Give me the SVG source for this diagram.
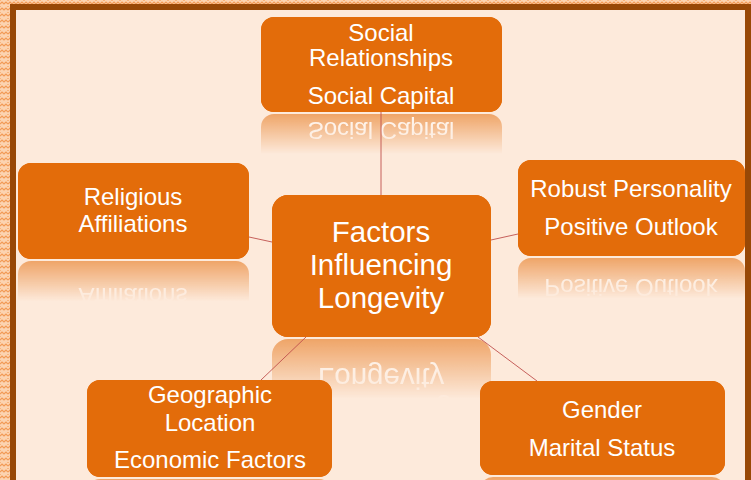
<svg xmlns="http://www.w3.org/2000/svg" xmlns:xlink="http://www.w3.org/1999/xlink" width="751" height="480" viewBox="0 0 751 480">
  <style>
    .box { fill: #e36c0a; }
    .lbl { font-family: "Liberation Sans", Arial, sans-serif; font-size: 24px; fill: #ffffff; text-anchor: middle; }
    .hub { font-size: 29.5px; }
    .link { stroke: #c0504d; stroke-width: 0.9; fill: none; }
  </style>
  <defs>
    <!-- woven zigzag used for the outer frame -->
    <pattern id="weave" width="8" height="6" patternUnits="userSpaceOnUse">
      <rect width="8" height="6" fill="#fcd3b0"/>
      <path d="M0 4 L2 2 L4 4 L6 2 L8 4" stroke="#f29a55" stroke-width="1.2" fill="none"/>
      <path d="M0 1 L1 0 M7 0 L8 1" stroke="#f8b47c" stroke-width="1" fill="none"/>
    </pattern>
    <!-- fading mask for the mirrored copies under each box -->
    <linearGradient id="fadeGrad" x1="0" y1="0" x2="0" y2="1">
      <stop offset="0" stop-color="#fff" stop-opacity="0"/>
      <stop offset="0.58" stop-color="#fff" stop-opacity="0"/>
      <stop offset="1" stop-color="#fff" stop-opacity="0.55"/>
    </linearGradient>
    <mask id="fade" maskContentUnits="objectBoundingBox">
      <rect x="0" y="0" width="1" height="1" fill="url(#fadeGrad)"/>
    </mask>
  </defs>

  <!-- page and frame -->
  <rect x="0" y="0" width="751" height="480" fill="#fdeadb"/>
  <rect x="0" y="0" width="751" height="5" fill="url(#weave)"/>
  <rect x="0" y="0" width="10" height="480" fill="url(#weave)"/>

  <!-- nodes (definitions reused for reflections) -->
  <g id="node-social">
    <rect class="box" x="261" y="17" width="241" height="95" rx="13"/>
    <text class="lbl" x="381" y="41">Social</text>
    <text class="lbl" x="381" y="66">Relationships</text>
    <text class="lbl" x="381" y="104">Social Capital</text>
  </g>
  <g id="node-religious">
    <rect class="box" x="18" y="163" width="231" height="96" rx="13"/>
    <text class="lbl" x="133" y="205">Religious</text>
    <text class="lbl" x="133" y="232">Affiliations</text>
  </g>
  <g id="node-personality">
    <rect class="box" x="518" y="160" width="227" height="96" rx="13"/>
    <text class="lbl" x="631" y="197">Robust Personality</text>
    <text class="lbl" x="631" y="235">Positive Outlook</text>
  </g>
  <g id="node-geo">
    <rect class="box" x="87" y="380" width="245" height="97" rx="13"/>
    <text class="lbl" x="210" y="403">Geographic</text>
    <text class="lbl" x="210" y="431">Location</text>
    <text class="lbl" x="210" y="468">Economic Factors</text>
  </g>
  <g id="node-gender">
    <rect class="box" x="480" y="381" width="245" height="94" rx="13"/>
    <text class="lbl" x="602" y="418">Gender</text>
    <text class="lbl" x="602" y="456">Marital Status</text>
  </g>
  <g id="node-center">
    <rect class="box" x="272" y="195" width="219" height="142" rx="16"/>
    <text class="lbl hub" x="381" y="242">Factors</text>
    <text class="lbl hub" x="381" y="275">Influencing</text>
    <text class="lbl hub" x="381" y="308">Longevity</text>
  </g>

  <!-- mirrored reflections below each box -->
  <g id="reflections">
    <use xlink:href="#node-social" href="#node-social" transform="matrix(1 0 0 -1 0 226)" mask="url(#fade)"/>
    <use xlink:href="#node-religious" href="#node-religious" transform="matrix(1 0 0 -1 0 520)" mask="url(#fade)"/>
    <use xlink:href="#node-personality" href="#node-personality" transform="matrix(1 0 0 -1 0 514)" mask="url(#fade)"/>
    <use xlink:href="#node-center" href="#node-center" transform="matrix(1 0 0 -1 0 676)" mask="url(#fade)"/>
    <use xlink:href="#node-geo" href="#node-geo" transform="matrix(1 0 0 -1 0 956)" mask="url(#fade)"/>
    <use xlink:href="#node-gender" href="#node-gender" transform="matrix(1 0 0 -1 0 952)" mask="url(#fade)"/>
  </g>

  <!-- connectors from the hub to each factor -->
  <g id="connectors">
    <line class="link" x1="381" y1="112" x2="381" y2="195"/>
    <line class="link" x1="249" y1="237" x2="272" y2="242"/>
    <line class="link" x1="491" y1="240" x2="518" y2="234"/>
    <line class="link" x1="306" y1="337" x2="261" y2="380"/>
    <line class="link" x1="478" y1="337" x2="537" y2="381"/>
  </g>

  <!-- redraw boxes above connectors -->
  <use xlink:href="#node-social" href="#node-social"/>
  <use xlink:href="#node-religious" href="#node-religious"/>
  <use xlink:href="#node-personality" href="#node-personality"/>
  <use xlink:href="#node-geo" href="#node-geo"/>
  <use xlink:href="#node-gender" href="#node-gender"/>
  <use xlink:href="#node-center" href="#node-center"/>

  <!-- dark inner frame -->
  <rect x="10" y="4" width="741" height="6" fill="#984806"/>
  <rect x="10" y="4" width="6" height="476" fill="#984806"/>
  <rect x="745" y="4" width="6" height="476" fill="#984806"/>
</svg>
